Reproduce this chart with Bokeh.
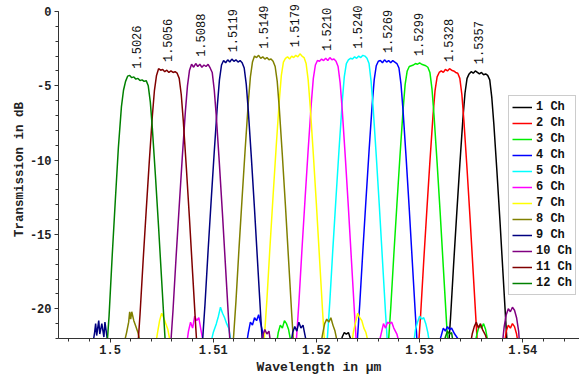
from math import pi
from bokeh.plotting import figure
from bokeh.models import Legend, LegendItem, FixedTicker, Range1d
from bokeh.embed import file_html
from bokeh.resources import INLINE
from bokeh.core.properties import value

# ---------------- data ----------------
channel_names = ["1 Ch", "2 Ch", "3 Ch", "4 Ch", "5 Ch", "6 Ch",
                 "7 Ch", "8 Ch", "9 Ch", "10 Ch", "11 Ch", "12 Ch"]
channel_colors = ["#000000", "#ff0000", "#00ee00", "#0000ff", "#00ffff", "#ff00ff",
                  "#ffff00", "#808000", "#000080", "#800080", "#800000", "#008000"]
peak_wavelengths = [1.5357, 1.5328, 1.5299, 1.5269, 1.5240, 1.5210,
                    1.5179, 1.5149, 1.5119, 1.5088, 1.5056, 1.5026]
peak_labels = ["1.5357", "1.5328", "1.5299", "1.5269", "1.5240", "1.5210",
               "1.5179", "1.5149", "1.5119", "1.5088", "1.5056", "1.5026"]

x_tick_values = [1.50, 1.51, 1.52, 1.53, 1.54]
x_tick_labels = ["1.5", "1.51", "1.52", "1.53", "1.54"]
y_tick_values = [-20, -15, -10, -5, 0]
y_tick_labels = ["-20", "-15", "-10", "-5", "0"]

# channel 1 (black)
wl_1 = [1.5223, 1.5225, 1.5227, 1.5229, 1.5231, 1.5233, 1.5235,
        1.5327, 1.5330, 1.5333, 1.5336, 1.5339, 1.5342, 1.5344, 1.5346, 1.5348, 1.5350, 1.5352, 1.5354, 1.5356,
        1.5358, 1.5360, 1.5362, 1.5364, 1.5366, 1.5368, 1.5370, 1.5372, 1.5375, 1.5378, 1.5381, 1.5384, 1.5387]
db_1 = [-22.5, -21.9, -21.6, -21.7, -21.6, -22.0, -22.5,
        -23.7, -20.6, -17.0, -13.6, -10.3, -7.2, -5.5, -4.5, -4.2, -4.05, -4.15, -4.0, -4.1,
        -4.2, -4.1, -4.25, -4.2, -4.3, -4.6, -5.8, -7.6, -10.8, -14.2, -17.8, -21.4, -24.7]

# channel 2 (red)
wl_2 = [1.5298, 1.5301, 1.5304, 1.5307, 1.5310, 1.5313, 1.5315, 1.5317, 1.5319, 1.5321, 1.5323, 1.5325, 1.5327,
        1.5329, 1.5331, 1.5333, 1.5335, 1.5337, 1.5339, 1.5341, 1.5343, 1.5346, 1.5349, 1.5352, 1.5355, 1.5358,
        1.5382, 1.5384, 1.5386, 1.5388, 1.5390, 1.5392, 1.5394, 1.5396]
db_2 = [-23.5, -20.4, -16.8, -13.4, -10.1, -7.0, -5.3, -4.4, -4.1, -4.0, -4.1, -3.9, -4.0,
        -3.85, -3.95, -4.0, -4.1, -4.15, -4.5, -5.6, -7.4, -10.6, -14.0, -17.6, -21.2, -24.5,
        -22.5, -21.5, -21.1, -21.3, -21.0, -21.2, -21.7, -22.5]

# channel 3 (lime)
wl_3 = [1.5161, 1.5163, 1.5165, 1.5167, 1.5169, 1.5171, 1.5173, 1.5176,
        1.5269, 1.5272, 1.5275, 1.5278, 1.5281, 1.5284, 1.5286, 1.5288, 1.5290, 1.5292, 1.5294, 1.5296, 1.5298,
        1.5300, 1.5302, 1.5304, 1.5306, 1.5308, 1.5310, 1.5312, 1.5314, 1.5317, 1.5320, 1.5323, 1.5326, 1.5329,
        1.5353, 1.5356, 1.5358, 1.5360, 1.5362, 1.5364, 1.5367]
db_3 = [-22.5, -21.6, -21.1, -21.3, -20.8, -21.0, -21.4, -22.5,
        -23.1, -20.0, -16.4, -13.0, -9.7, -6.6, -4.9, -4.0, -3.7, -3.65, -3.6, -3.5, -3.55,
        -3.45, -3.55, -3.6, -3.65, -3.75, -4.1, -5.2, -7.0, -10.2, -13.6, -17.2, -20.8, -24.1,
        -22.5, -21.6, -21.1, -21.3, -21.0, -21.4, -22.5]

# channel 4 (blue)
wl_4 = [1.5132, 1.5134, 1.5136, 1.5138, 1.5140, 1.5142, 1.5144, 1.5146, 1.5148, 1.5150,
        1.5239, 1.5242, 1.5245, 1.5248, 1.5251, 1.5254, 1.5256, 1.5258, 1.5260, 1.5262, 1.5264, 1.5266, 1.5268,
        1.5270, 1.5272, 1.5274, 1.5276, 1.5278, 1.5280, 1.5282, 1.5284, 1.5287, 1.5290, 1.5293, 1.5296, 1.5299,
        1.5318, 1.5321, 1.5323, 1.5325, 1.5327, 1.5329, 1.5331, 1.5334, 1.5337, 1.5340]
db_4 = [-22.5, -21.6, -20.9, -21.1, -20.6, -20.8, -20.4, -21.0, -21.6, -22.5,
        -22.8, -19.7, -16.1, -12.7, -9.4, -6.3, -4.6, -3.65, -3.35, -3.3, -3.45, -3.25, -3.4,
        -3.3, -3.45, -3.3, -3.4, -3.5, -3.8, -4.9, -6.7, -9.9, -13.3, -16.9, -20.5, -23.8,
        -22.5, -21.8, -21.3, -21.5, -21.2, -21.4, -21.3, -21.7, -22.0, -22.5]

# channel 5 (cyan)
wl_5 = [1.5097, 1.5100, 1.5103, 1.5105, 1.5107, 1.5109, 1.5111, 1.5113, 1.5115, 1.5118,
        1.5210, 1.5213, 1.5216, 1.5219, 1.5222, 1.5225, 1.5227, 1.5229, 1.5231, 1.5233, 1.5235, 1.5237, 1.5239,
        1.5241, 1.5243, 1.5245, 1.5247, 1.5249, 1.5251, 1.5253, 1.5255, 1.5258, 1.5261, 1.5264, 1.5267, 1.5270,
        1.5294, 1.5296, 1.5298, 1.5300, 1.5302, 1.5304, 1.5306, 1.5308, 1.5310]
db_5 = [-22.5, -21.6, -21.0, -20.5, -19.9, -20.3, -20.6, -21.0, -21.3, -22.5,
        -22.6, -19.5, -15.9, -12.5, -9.2, -6.1, -4.4, -3.5, -3.25, -3.15, -3.2, -3.05, -3.15,
        -3.0, -3.1, -2.95, -3.0, -3.15, -3.5, -4.7, -6.5, -9.7, -13.1, -16.7, -20.3, -23.6,
        -22.5, -21.4, -20.9, -20.5, -20.7, -20.6, -21.0, -21.6, -22.5]

# channel 6 (magenta)
wl_6 = [1.5074, 1.5076, 1.5078, 1.5080, 1.5082, 1.5084, 1.5086, 1.5088, 1.5091,
        1.5180, 1.5183, 1.5186, 1.5189, 1.5192, 1.5195, 1.5197, 1.5199, 1.5201, 1.5203, 1.5205, 1.5207, 1.5209,
        1.5211, 1.5213, 1.5215, 1.5217, 1.5219, 1.5221, 1.5223, 1.5225, 1.5228, 1.5231, 1.5234, 1.5237, 1.5240,
        1.5260, 1.5263, 1.5265, 1.5267, 1.5269, 1.5271, 1.5273, 1.5275, 1.5278, 1.5281]
db_6 = [-22.5, -21.5, -20.9, -21.3, -20.5, -20.8, -20.6, -21.4, -22.5,
        -22.7, -19.6, -16.0, -12.6, -9.3, -6.2, -4.5, -3.6, -3.3, -3.35, -3.2, -3.3, -3.15,
        -3.3, -3.1, -3.25, -3.2, -3.35, -3.7, -4.8, -6.6, -9.8, -13.2, -16.8, -20.4, -23.7,
        -22.5, -21.6, -21.0, -21.3, -20.9, -21.0, -20.9, -21.3, -21.7, -22.5]

# channel 7 (yellow)
wl_7 = [1.5044, 1.5046, 1.5048, 1.5050, 1.5052, 1.5054, 1.5056, 1.5059,
        1.5149, 1.5152, 1.5155, 1.5158, 1.5161, 1.5164, 1.5166, 1.5168, 1.5170, 1.5172, 1.5174, 1.5176, 1.5178,
        1.5180, 1.5182, 1.5184, 1.5186, 1.5188, 1.5190, 1.5192, 1.5194, 1.5197, 1.5200, 1.5203, 1.5206, 1.5209,
        1.5234, 1.5236, 1.5238, 1.5240, 1.5242, 1.5244, 1.5246, 1.5248, 1.5251]
db_7 = [-22.5, -21.6, -20.8, -20.3, -20.6, -21.0, -21.4, -22.5,
        -22.5, -19.4, -15.8, -12.4, -9.1, -6.0, -4.3, -3.4, -3.15, -3.05, -3.2, -3.0, -3.1,
        -2.95, -3.05, -2.85, -3.0, -3.1, -3.5, -4.6, -6.4, -9.6, -13.0, -16.6, -20.2, -23.5,
        -22.5, -21.5, -20.9, -20.3, -20.6, -20.8, -21.3, -21.6, -22.5]

# channel 8 (olive)
wl_8 = [1.5013, 1.5016, 1.5018, 1.5019, 1.5020, 1.5021, 1.5023, 1.5025, 1.5027, 1.5030,
        1.5119, 1.5122, 1.5125, 1.5128, 1.5131, 1.5134, 1.5136, 1.5138, 1.5140, 1.5142, 1.5144, 1.5146, 1.5148,
        1.5150, 1.5152, 1.5154, 1.5156, 1.5158, 1.5160, 1.5162, 1.5164, 1.5167, 1.5170, 1.5173, 1.5176, 1.5179,
        1.5204, 1.5206, 1.5208, 1.5210, 1.5212, 1.5214, 1.5216, 1.5218, 1.5221]
db_8 = [-22.5, -21.6, -20.9, -20.2, -20.7, -20.2, -20.8, -21.2, -21.6, -22.5,
        -22.6, -19.5, -15.9, -12.5, -9.2, -6.1, -4.4, -3.4, -3.0, -3.1, -2.95, -3.15, -3.05,
        -3.2, -3.1, -3.25, -3.2, -3.35, -3.7, -4.7, -6.5, -9.7, -13.1, -16.7, -20.3, -23.6,
        -22.5, -21.7, -21.0, -20.7, -20.9, -20.6, -21.1, -21.5, -22.5]

# channel 9 (navy)
wl_9 = [1.4983, 1.4985, 1.4986, 1.4987, 1.4989, 1.4990, 1.4992, 1.4994, 1.4995, 1.4997, 1.4999,
        1.5089, 1.5092, 1.5095, 1.5098, 1.5101, 1.5104, 1.5106, 1.5108, 1.5110, 1.5112, 1.5114, 1.5116, 1.5118,
        1.5120, 1.5122, 1.5124, 1.5126, 1.5128, 1.5130, 1.5132, 1.5134, 1.5137, 1.5140, 1.5143, 1.5146, 1.5149,
        1.5175, 1.5177, 1.5179, 1.5181, 1.5183, 1.5185, 1.5187, 1.5189, 1.5191]
db_9 = [-22.5, -21.6, -21.0, -21.8, -20.8, -21.7, -21.0, -21.9, -20.9, -21.9, -22.5,
        -22.8, -19.7, -16.1, -12.7, -9.4, -6.3, -4.6, -3.6, -3.3, -3.45, -3.25, -3.4, -3.2,
        -3.35, -3.25, -3.4, -3.3, -3.45, -3.8, -4.9, -6.7, -9.9, -13.3, -16.9, -20.5, -23.8,
        -22.5, -21.6, -21.2, -21.5, -20.9, -21.3, -21.1, -21.8, -22.5]

# channel 10 (purple)
wl_10 = [1.5058, 1.5061, 1.5064, 1.5067, 1.5070, 1.5073, 1.5075, 1.5077, 1.5079, 1.5081, 1.5083, 1.5085, 1.5087,
         1.5089, 1.5091, 1.5093, 1.5095, 1.5097, 1.5099, 1.5101, 1.5103, 1.5106, 1.5109, 1.5112, 1.5115, 1.5118,
         1.5146, 1.5148, 1.5150, 1.5152, 1.5154, 1.5156,
         1.5380, 1.5382, 1.5384, 1.5386, 1.5388, 1.5390, 1.5392, 1.5394, 1.5396, 1.5397]
db_10 = [-23.2, -20.1, -16.5, -13.1, -9.8, -6.7, -5.0, -3.95, -3.55, -3.75, -3.5, -3.7, -3.55,
         -3.75, -3.6, -3.7, -3.55, -3.8, -4.1, -5.3, -7.1, -10.3, -13.7, -17.3, -20.9, -24.2,
         -22.5, -21.8, -21.4, -21.7, -21.5, -22.5,
         -22.5, -21.2, -20.4, -20.0, -20.2, -19.9, -20.1, -20.6, -21.5, -22.5]

# channel 11 (maroon)
wl_11 = [1.5026, 1.5029, 1.5032, 1.5035, 1.5038, 1.5041, 1.5043, 1.5045, 1.5047, 1.5049, 1.5051, 1.5053, 1.5055,
         1.5057, 1.5059, 1.5061, 1.5063, 1.5065, 1.5067, 1.5069, 1.5071, 1.5074, 1.5077, 1.5080, 1.5083, 1.5086,
         1.5349, 1.5351, 1.5353, 1.5355, 1.5357, 1.5359, 1.5361, 1.5364, 1.5367]
db_11 = [-23.5, -20.4, -16.8, -13.4, -10.1, -7.0, -5.3, -4.3, -3.85, -3.95, -3.9, -4.05, -3.95,
         -4.1, -4.0, -4.1, -4.05, -4.15, -4.5, -5.6, -7.4, -10.6, -14.0, -17.6, -21.2, -24.5,
         -22.5, -21.7, -21.2, -20.9, -21.3, -21.0, -21.4, -21.8, -22.5]

# channel 12 (green)
wl_12 = [1.4996, 1.4999, 1.5002, 1.5005, 1.5008, 1.5011, 1.5013, 1.5015, 1.5017, 1.5019, 1.5021, 1.5023, 1.5025,
         1.5027, 1.5029, 1.5031, 1.5033, 1.5035, 1.5037, 1.5039, 1.5041, 1.5044, 1.5047, 1.5050, 1.5053, 1.5056,
         1.5323, 1.5325, 1.5327, 1.5329, 1.5331, 1.5333]
db_12 = [-23.5, -20.5, -16.5, -12.8, -9.2, -6.4, -5.3, -4.7, -4.35, -4.3, -4.45, -4.4, -4.55,
         -4.5, -4.65, -4.6, -4.7, -4.65, -5.0, -6.1, -7.9, -11.1, -14.5, -18.1, -21.7, -25.0,
         -22.5, -21.9, -21.5, -21.7, -21.6, -22.5]

series_wl = [wl_1, wl_2, wl_3, wl_4, wl_5, wl_6, wl_7, wl_8, wl_9, wl_10, wl_11, wl_12]
series_db = [db_1, db_2, db_3, db_4, db_5, db_6, db_7, db_8, db_9, db_10, db_11, db_12]

# ---------------- figure ----------------
MONO = "Liberation Mono"

p = figure(width=579, height=378, output_backend="svg", toolbar_location=None,
           x_range=Range1d(1.4950, 1.5455), y_range=Range1d(-22, 0.74),
           min_border_left=58, min_border_right=0, min_border_top=0, min_border_bottom=40)
p.xgrid.visible = False
p.ygrid.visible = False
p.outline_line_color = None
p.background_fill_color = "white"
p.border_fill_color = "white"

x_minor = [round(1.494 + 0.002 * i, 4) for i in range(27)]
p.xaxis.ticker = FixedTicker(ticks=x_tick_values, minor_ticks=x_minor)
p.xaxis.major_label_overrides = dict(zip(x_tick_values, x_tick_labels))
p.yaxis.ticker = FixedTicker(ticks=y_tick_values, minor_ticks=list(range(-22, 1)))
p.yaxis.major_label_overrides = dict(zip(y_tick_values, y_tick_labels))
p.yaxis.bounds = (-22, 0)

for ax in (p.xaxis[0], p.yaxis[0]):
    ax.axis_line_color = "#333333"
    ax.major_tick_line_color = "#333333"
    ax.minor_tick_line_color = "#333333"
    ax.major_tick_in = 0
    ax.major_tick_out = 4
    ax.minor_tick_in = 0
    ax.minor_tick_out = 3
    ax.major_label_standoff = 3
    ax.major_label_text_font = MONO
    ax.major_label_text_font_style = "bold"
    ax.major_label_text_font_size = "12px"
    ax.major_label_text_color = "#222222"
    ax.axis_label_text_font = MONO
    ax.axis_label_text_font_style = "bold"
    ax.axis_label_text_color = "#222222"

p.xaxis.axis_label = "Wavelength in \u03bcm"
p.xaxis.axis_label_text_font_size = "13px"
p.xaxis.axis_label_standoff = 3
p.xaxis.major_label_standoff = 2
p.yaxis.axis_label = "Transmission in dB"
p.yaxis.axis_label_text_font_size = "12.5px"
p.yaxis.axis_label_standoff = 0

renderers = []
for wl, db, col in zip(series_wl, series_db, channel_colors):
    r = p.line(wl, db, line_color=col, line_width=1.5)
    renderers.append(r)

# peak labels just above each passband
label_y = []
for wl, db, pk in zip(series_wl, series_db, peak_wavelengths):
    top = max(d for w, d in zip(wl, db) if abs(w - pk) < 0.0015)
    label_y.append(top + 0.45)
p.text(x=peak_wavelengths, y=label_y, text=peak_labels, angle=pi / 2,
       text_align="left", text_baseline="middle",
       text_font=value(MONO), text_font_size="12px", text_color="#111111")

legend = Legend(items=[LegendItem(label=n, renderers=[r]) for n, r in zip(channel_names, renderers)],
                location=(450, 43))
legend.glyph_width = 20
legend.glyph_height = 16
legend.label_height = 16
legend.spacing = 0
legend.padding = 3
legend.margin = 0
legend.label_standoff = 4
legend.label_text_font = MONO
legend.label_text_font_style = "bold"
legend.label_text_font_size = "12px"
legend.label_text_color = "#111111"
legend.border_line_color = "#999999"
legend.border_line_width = 1
legend.background_fill_alpha = 1.0
p.add_layout(legend)

open("out.html", "w").write(file_html(p, INLINE))
